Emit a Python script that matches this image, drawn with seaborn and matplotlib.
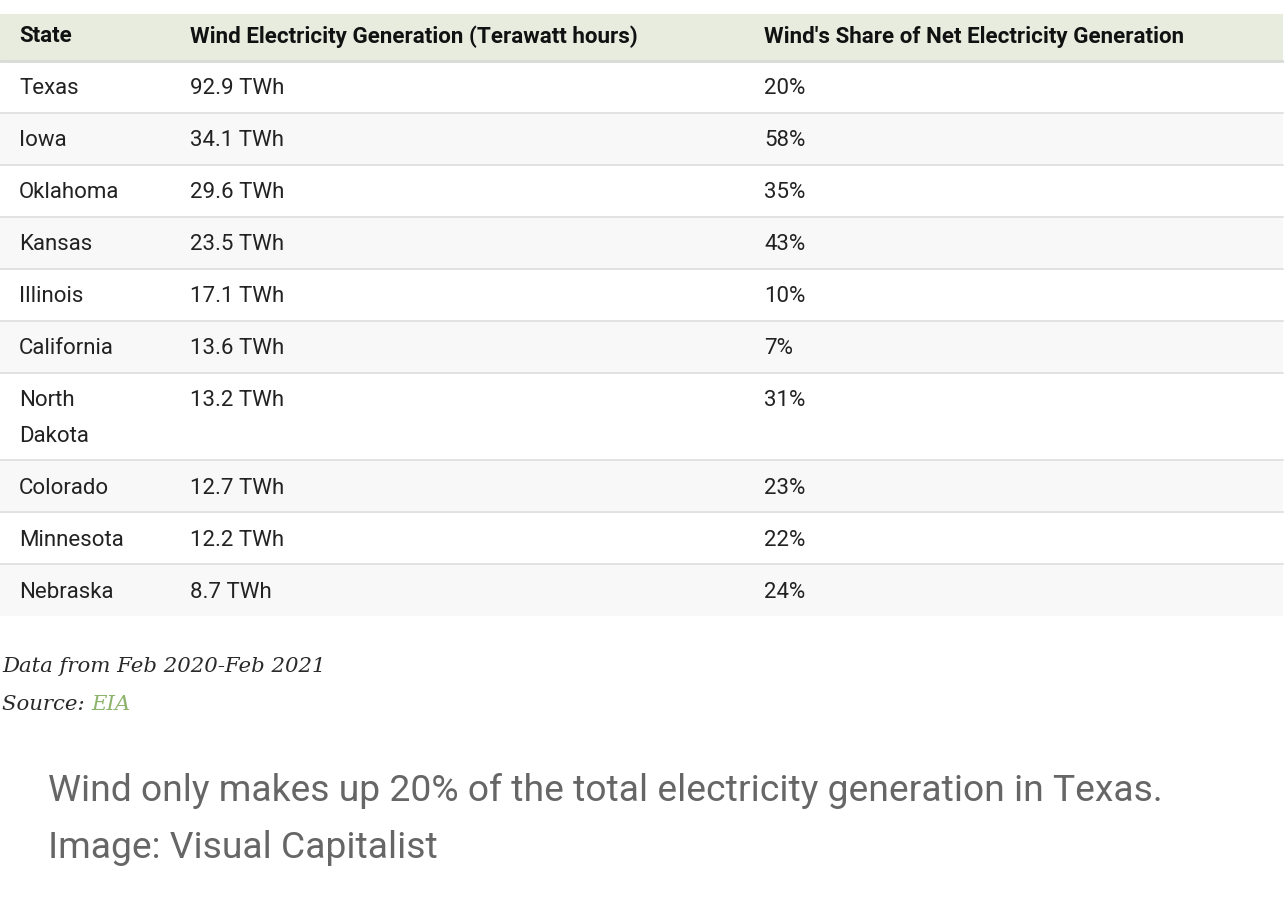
"""
Tabla: generación eléctrica eólica por estado (Feb 2020 - Feb 2021)
Se dibuja como tabla con matplotlib sobre un tema de seaborn.
"""
import textwrap

import matplotlib.pyplot as plt
import seaborn as sns

sns.set_theme(context="notebook", style="white")
plt.rcParams["font.family"] = ["Roboto", "DejaVu Sans"]

# =========================
# Datos
# =========================
headers = ["State", "Wind Electricity Generation (Terawatt hours)",
           "Wind's Share of Net Electricity Generation"]
states = ["Texas", "Iowa", "Oklahoma", "Kansas", "Illinois", "California",
          "North Dakota", "Colorado", "Minnesota", "Nebraska"]
wind_twh = [92.9, 34.1, 29.6, 23.5, 17.1, 13.6, 13.2, 12.7, 12.2, 8.7]
wind_share = [20, 58, 35, 43, 10, 7, 31, 23, 22, 24]

note = "Data from Feb 2020-Feb 2021"
source_label = "Source: "
source_name = "EIA"
caption = ["Wind only makes up 20% of the total electricity generation in Texas.",
           "Image: Visual Capitalist"]

# =========================
# Estilo
# =========================
W, H = 1284, 910
col_x = [19, 190, 764]
table_right = 1283
header_top, header_bot = 14, 61
row_h, line_h, pad = 52, 35, 28
header_bg = "#e7ecdf"
stripe_bg = "#f8f8f8"
grid_col = "#e2e2e2"
text_col = "#222222"
body_size = 16
head_size = 16.1

fig = plt.figure(figsize=(W / 100, H / 100), dpi=100)
ax = fig.add_axes([0, 0, 1, 1])
ax.set_xlim(0, W)
ax.set_ylim(H, 0)
ax.axis("off")

# cabecera
ax.fill_between([0, table_right], header_top, header_bot, color=header_bg, lw=0)
for x, h in zip(col_x, headers):
    ax.text(x, (header_top + header_bot) / 2 - 1, h, ha="left", va="center",
            fontsize=head_size, fontweight="bold", color="#111111")
ax.plot([0, table_right], [header_bot, header_bot], color="#d9dcd6", lw=2)

# filas
y = header_bot
for i, (st, twh, sh) in enumerate(zip(states, wind_twh, wind_share)):
    st_lines = textwrap.wrap(st, width=11)
    h = row_h + line_h * (len(st_lines) - 1)
    if i % 2 == 1:
        ax.fill_between([0, table_right], y, y + h, color=stripe_bg, lw=0)
    for k, line in enumerate(st_lines):
        ax.text(col_x[0], y + pad + k * line_h, line, ha="left", va="center",
                fontsize=body_size, color=text_col)
    ax.text(col_x[1], y + pad, f"{twh:.1f} TWh", ha="left", va="center",
            fontsize=body_size, color=text_col)
    ax.text(col_x[2], y + pad, f"{sh}%", ha="left", va="center",
            fontsize=body_size, color=text_col)
    y += h
    if i < len(states) - 1:
        ax.plot([0, table_right], [y, y], color=grid_col, lw=1.4)

# nota y fuente
serif = ["DejaVu Serif"]
foot_size = 15.3
ax.text(2, 667, note, ha="left", va="center", fontsize=foot_size, style="italic",
        family=serif, color="#2a2a2a")
t = ax.text(2, 704, source_label, ha="left", va="center", fontsize=foot_size,
            style="italic", family=serif, color="#2a2a2a")
fig.canvas.draw()
bb = t.get_window_extent()
ax.text(bb.x1, 704, source_name, ha="left", va="center", fontsize=foot_size,
        style="italic", family=serif, color="#8db46c")

# pie de imagen
for k, line in enumerate(caption):
    ax.text(48, 791 + k * 57, line, ha="left", va="center", fontsize=26.8,
            color="#666666")

fig.savefig("out.png", dpi=100, facecolor="white")
